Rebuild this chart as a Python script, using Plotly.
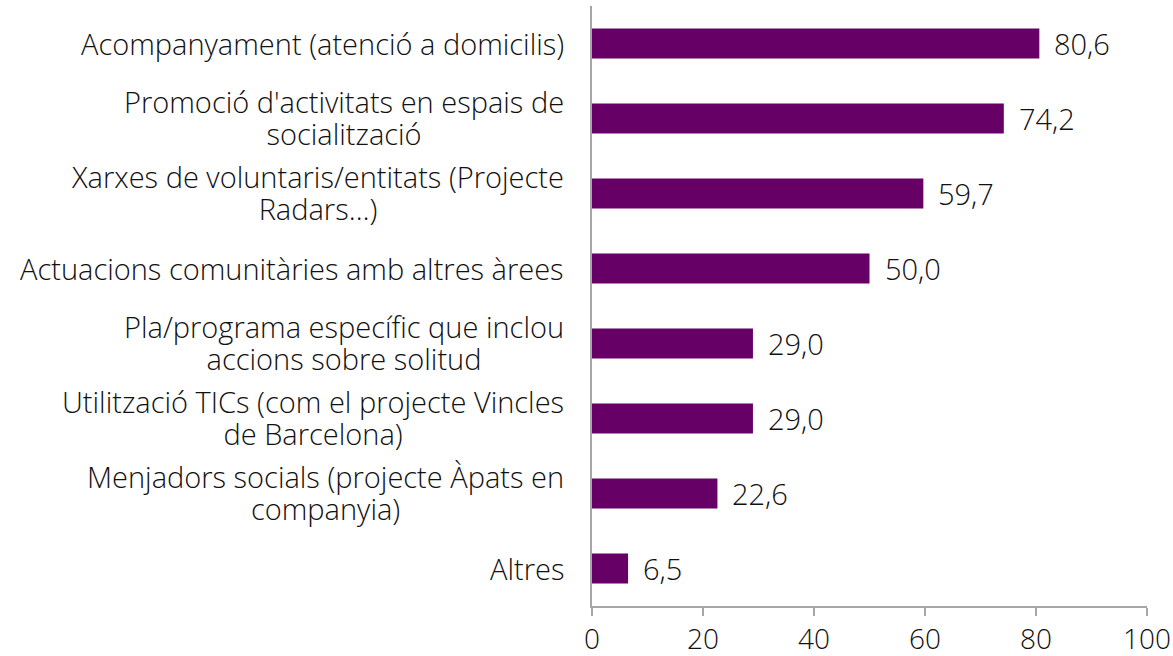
import plotly.graph_objects as go

categories = [
    "Acompanyament (atenció a domicilis)",
    "Promoció d'activitats en espais de<br>socialització",
    "Xarxes de voluntaris/entitats (Projecte<br>Radars…)",
    "Actuacions comunitàries amb altres àrees",
    "Pla/programa específic que inclou<br>accions sobre solitud",
    "Utilització TICs (com el projecte Vincles<br>de Barcelona)",
    "Menjadors socials (projecte Àpats en<br>companyia)",
    "Altres",
]
values = [80.6, 74.2, 59.7, 50.0, 29.0, 29.0, 22.6, 6.5]
tick_vals = [0, 20, 40, 60, 80, 100]

FONT = "Open Sans"
FS = 29
LINE_FS = 24.6  # controls line spacing (1.3 x this) for wrapped labels
TXT = "#111111"
BAR = "#660066"
AX = "#a6a6a6"

ids = list(range(len(categories)))

fig = go.Figure(go.Bar(
    x=values, y=ids, orientation="h",
    marker=dict(color=BAR, line=dict(width=0)),
    width=0.4, hoverinfo="skip",
))

lab_font = dict(family=FONT, size=FS, color=TXT, weight=300)
annotations = []
for i, (c, v) in enumerate(zip(categories, values)):
    lines = c.split("<br>")
    if len(lines) == 1:
        annotations.append(dict(
            x=0, y=i, xref="x", yref="y", text=c, showarrow=False,
            xanchor="right", yanchor="middle", xshift=-26, font=lab_font))
    else:
        txt = "<br>".join(f'<span style="font-size:{FS}px">{ln}</span>' for ln in lines)
        annotations.append(dict(
            x=0, y=i, xref="x", yref="y", text=txt, showarrow=False,
            xanchor="right", yanchor="middle", align="center", xshift=-26,
            yshift=1, font=dict(lab_font, size=LINE_FS)))
    annotations.append(dict(
        x=v, y=i, xref="x", yref="y", text=f"{v:.1f}".replace(".", ","),
        showarrow=False, xanchor="left", yanchor="middle", xshift=13,
        font=lab_font,
    ))

fig.update_layout(
    width=1173, height=656,
    margin=dict(l=592, r=26, t=6, b=50),
    paper_bgcolor="white", plot_bgcolor="white",
    showlegend=False,
    annotations=annotations,
    separators=",.",
    xaxis=dict(
        range=[0, 100], tickvals=tick_vals, showgrid=False, zeroline=False,
        showline=True, linecolor=AX, linewidth=1.5, automargin=False,
        ticks="outside", ticklen=8, tickcolor=AX, tickwidth=1.5,
        ticklabelstandoff=0,
        tickfont=dict(family=FONT, size=28, color=TXT, weight=300),
    ),
    yaxis=dict(
        range=[len(categories) - 0.5, -0.5], showticklabels=False,
        showgrid=False, zeroline=False, showline=True, linecolor=AX,
        linewidth=1.5, ticks="", automargin=False,
    ),
)

fig.write_html("out.html", config={"displayModeBar": False},
               post_script="document.body.style.margin='0';")
